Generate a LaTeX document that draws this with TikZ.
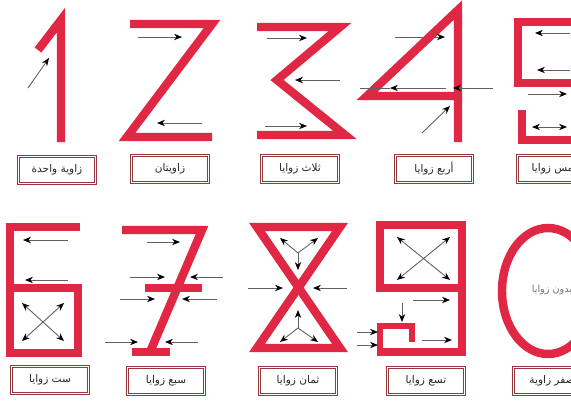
\documentclass[tikz,border=0pt]{standalone}
\usepackage{fontspec}
\newfontfamily\arabicfont[Script=Arabic]{DejaVu Sans}
\TeXXeTstate=1
\usepackage{tikz}
\usetikzlibrary{arrows.meta}
\definecolor{digitred}{RGB}{224,40,68}
\definecolor{boxred}{RGB}{150,55,60}
\definecolor{pointergray}{RGB}{95,95,100}
\newcommand{\artext}[1]{{\arabicfont\beginR #1\endR}}
\tikzstyle{digit} = [draw=digitred, line width=4.8pt, line join=miter, miter limit=12]
\tikzstyle{hook} = [draw=digitred, line width=3.4pt, line join=miter]
\tikzstyle{pointer} = [draw=pointergray, line width=0.5pt, ->, >={Stealth[length=4.5pt, width=3.6pt, black]}]
\tikzstyle{twoway} = [draw=pointergray, line width=0.5pt, <->, >={Stealth[length=4.5pt, width=3.6pt, black]}]
\tikzstyle{anglebox} = [rectangle, draw=boxred, line width=0.5pt, double=white, double distance=0.7pt, fill=white, minimum width=44pt, minimum height=15.5pt, inner sep=1pt, text=black!85, font=\fontsize{6}{7}\selectfont]

\begin{document}
\begin{tikzpicture}[x=0.02cm, y=-0.02cm]
                \clip (0,0) rectangle (571,400);
                \fill[white] (0,0) rectangle (571,400);

% ---------------------------------------------
% Top row: 1 2 3 4 5
% ---------------------------------------------
                \draw [digit] (38,50) -- (61,20) -- (61,142);
                \draw [pointer] (28,88) -- (49,58);

                \draw [digit] (130,24) -- (212,24) -- (127,137) -- (212,137);
                \draw [pointer] (138,37) -- (182,37);
                \draw [pointer] (202,123) -- (157,123);

                \draw [digit] (257,27) -- (340,27) -- (277,80) -- (345,135) -- (257,135);
                \draw [pointer] (267,38) -- (307,38);
                \draw [pointer] (340,80) -- (295,80);
                \draw [pointer] (265,126) -- (307,126);

                \draw [digit] (458,142) -- (458,10) -- (367,96) -- (458,96);
                \draw [pointer] (395,37) -- (445,37);
                \draw [pointer] (422,133) -- (450,106);
                \draw [pointer] (493,88) -- (453,88);
                \draw [pointer] (446,88) -- (390,88);
                \draw [draw=pointergray, line width=0.5pt] (390,88) -- (360,88);

                \draw [digit] (585,22) -- (518,22) -- (518,83) -- (585,83);
                \draw [digit] (522,110) -- (522,140) -- (585,140);
                \draw [pointer] (570,33) -- (535,33);
                \draw [pointer] (570,70) -- (537,70);
                \draw [pointer] (528,94) -- (567,94);
                \draw [twoway] (532,127) -- (567,127);

% ---------------------------------------------
% Bottom row: 6 7 8 9 0
% ---------------------------------------------
                \draw [digit] (80,227) -- (10,227) -- (10,353) -- (78,353) -- (78,288) -- (10,288);
                \draw [pointer] (68,240) -- (23,240);
                \draw [pointer] (68,280) -- (25,280);
                \draw [twoway] (22,303) -- (64,341);
                \draw [twoway] (64,303) -- (22,341);

                \draw [digit] (122,230) -- (202,230) -- (150,352);
                \draw [digit] (132,352) -- (170,352);
                \draw [digit] (145,288) -- (202,288);
                \draw [pointer] (147,242) -- (180,242);
                \draw [pointer] (130,277) -- (165,277);
                \draw [pointer] (223,277) -- (190,277);
                \draw [pointer] (120,299) -- (155,299);
                \draw [pointer] (217,299) -- (182,299);
                \draw [pointer] (105,342) -- (138,342);
                \draw [pointer] (198,342) -- (165,342);

                \draw [digit] (257,227) -- (340,227) -- (257,348) -- (340,348) -- cycle;
                \draw [pointer] (298,253) -- (280,238);
                \draw [pointer] (298,253) -- (318,238);
                \draw [pointer] (298,253) -- (298,270);
                \draw [pointer] (298,328) -- (298,310);
                \draw [pointer] (298,328) -- (280,342);
                \draw [pointer] (298,328) -- (318,342);
                \draw [pointer] (248,288) -- (283,288);
                \draw [pointer] (347,288) -- (313,288);

                \draw [digit] (462,288) -- (380,288) -- (380,225) -- (462,225) -- (462,352) -- (377,352);
                \draw [hook] (380,352) -- (380,326) -- (412,326) -- (412,342);
                \draw [twoway] (397,237) -- (450,280);
                \draw [twoway] (450,237) -- (397,280);
                \draw [pointer] (413,300) -- (450,300);
                \draw [pointer] (422,340) -- (452,340);
                \draw [pointer] (402,303) -- (402,322);
                \draw [pointer] (357,332) -- (378,332);
                \draw [pointer] (357,345) -- (378,345);

                \draw [digit] (548,291) ellipse [x radius=46, y radius=63];
                \node (zeroinside) [text=black!55, font=\fontsize{5.5}{6}\selectfont] at (552,290) {\artext{بدون زوايا}};

% ---------------------------------------------
% Labels
% ---------------------------------------------
                \node (lab1) [anglebox] at (57,170) {\artext{زاوية واحدة}};
                \node (lab2) [anglebox] at (170,169) {\artext{زاويتان}};
                \node (lab3) [anglebox] at (300,169) {\artext{ثلاث زوايا}};
                \node (lab4) [anglebox] at (434,169) {\artext{أربع زوايا}};
                \node (lab5) [anglebox] at (556,169) {\artext{خمس زوايا}};
                \node (lab6) [anglebox] at (50,380) {\artext{ست زوايا}};
                \node (lab7) [anglebox] at (166,381) {\artext{سبع زوايا}};
                \node (lab8) [anglebox] at (298,381) {\artext{ثمان زوايا}};
                \node (lab9) [anglebox] at (426,381) {\artext{تسع زوايا}};
                \node (lab0) [anglebox] at (552,381) {\artext{صفر زاوية}};

            \end{tikzpicture}
\end{document}
